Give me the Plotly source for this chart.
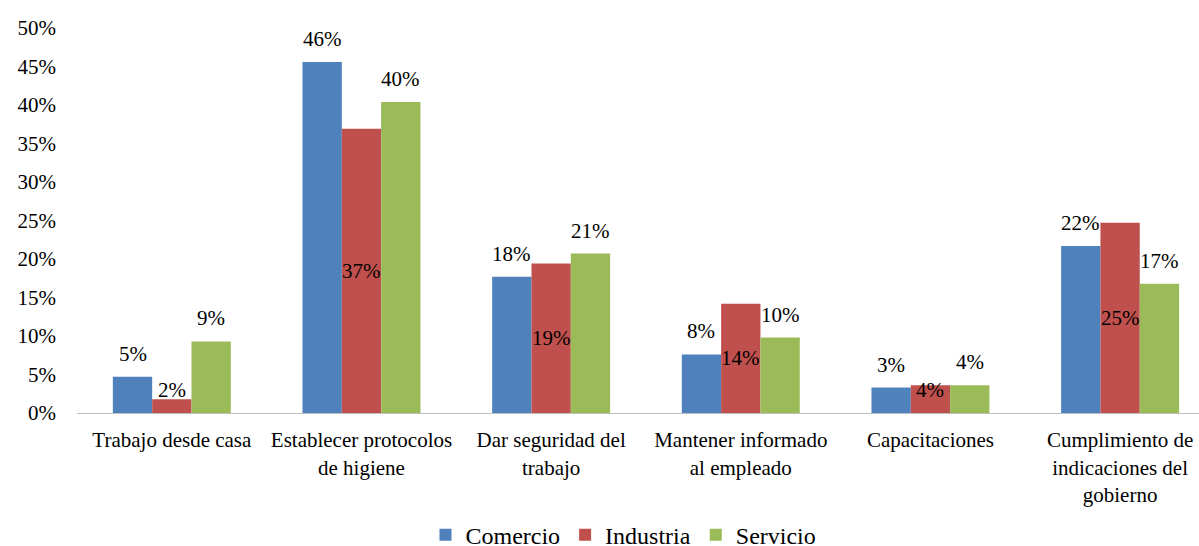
import plotly.graph_objects as go

categories = [
    "Trabajo desde casa",
    "Establecer protocolos<br>de higiene",
    "Dar seguridad del<br>trabajo",
    "Mantener informado<br>al empleado",
    "Capacitaciones",
    "Cumplimiento de<br>indicaciones del<br>gobierno",
]
series_names = ["Comercio", "Industria", "Servicio"]
comercio = [0.047, 0.456, 0.177, 0.076, 0.033, 0.217]
industria = [0.018, 0.369, 0.194, 0.142, 0.036, 0.247]
servicio = [0.093, 0.404, 0.207, 0.098, 0.036, 0.168]
colors = ["#4F81BD", "#C0504D", "#9BBB59"]
label_pos = ["outside", "center", "outside"]

FONT = "Liberation Serif, Times New Roman, Times, serif"
FS = 21
LEG_FS = 24
BARGAP = 0.378
MIN_CENTER = 0.03

fig = go.Figure()
all_series = [comercio, industria, servicio]
for name, vals, col in zip(series_names, all_series, colors):
    fig.add_trace(go.Bar(
        name=name, x=list(range(len(categories))), y=vals,
        marker=dict(color=col, line=dict(width=0)),
    ))

bw = (1 - BARGAP) / len(all_series)
annotations = []
for k, (vals, pos) in enumerate(zip(all_series, label_pos)):
    for i, v in enumerate(vals):
        xc = i + (k - (len(all_series) - 1) / 2) * bw
        txt = f"{v:.0%}"
        if pos == "outside":
            annotations.append(dict(x=xc, y=v, xref="x", yref="y", text=txt,
                                    showarrow=False, yanchor="bottom", yshift=9,
                                    font=dict(family=FONT, size=FS, color="#000")))
        else:
            annotations.append(dict(x=xc, y=max(v / 2, MIN_CENTER), xref="x", yref="y",
                                    text=txt, showarrow=False, yanchor="middle",
                                    font=dict(family=FONT, size=FS, color="#000")))

fig.update_layout(
    width=1199, height=546,
    margin=dict(l=77, r=0, t=28, b=133, autoexpand=False),
    paper_bgcolor="white", plot_bgcolor="white",
    barmode="group", bargap=BARGAP, bargroupgap=0,
    font=dict(family=FONT, size=FS, color="#000"),
    annotations=annotations,
    legend=dict(orientation="h", x=0.52, xref="container", xanchor="center",
                y=0.02, yref="container", yanchor="middle",
                font=dict(family=FONT, size=LEG_FS, color="#000"), itemwidth=30,
                traceorder="normal"),
    showlegend=True,
)
fig.update_xaxes(
    tickmode="array", tickvals=list(range(len(categories))), ticktext=categories,
    range=[-0.5, 5.416], showline=True, linecolor="#BFBFBF", linewidth=1,
    showgrid=False, zeroline=False, ticks="", ticklabelstandoff=8, automargin=False,
    tickfont=dict(family=FONT, size=FS, color="#000"),
)
fig.update_yaxes(
    range=[0, 0.5], dtick=0.05, tickformat=".0%", showgrid=False, zeroline=False,
    showline=False, ticks="", ticklabelstandoff=20, automargin=False,
    tickfont=dict(family=FONT, size=FS, color="#000"),
)
fig.write_html(
    "out.html",
    config={"displayModeBar": False},
    post_script="document.body.style.margin='0';document.body.style.overflow='hidden';",
)
